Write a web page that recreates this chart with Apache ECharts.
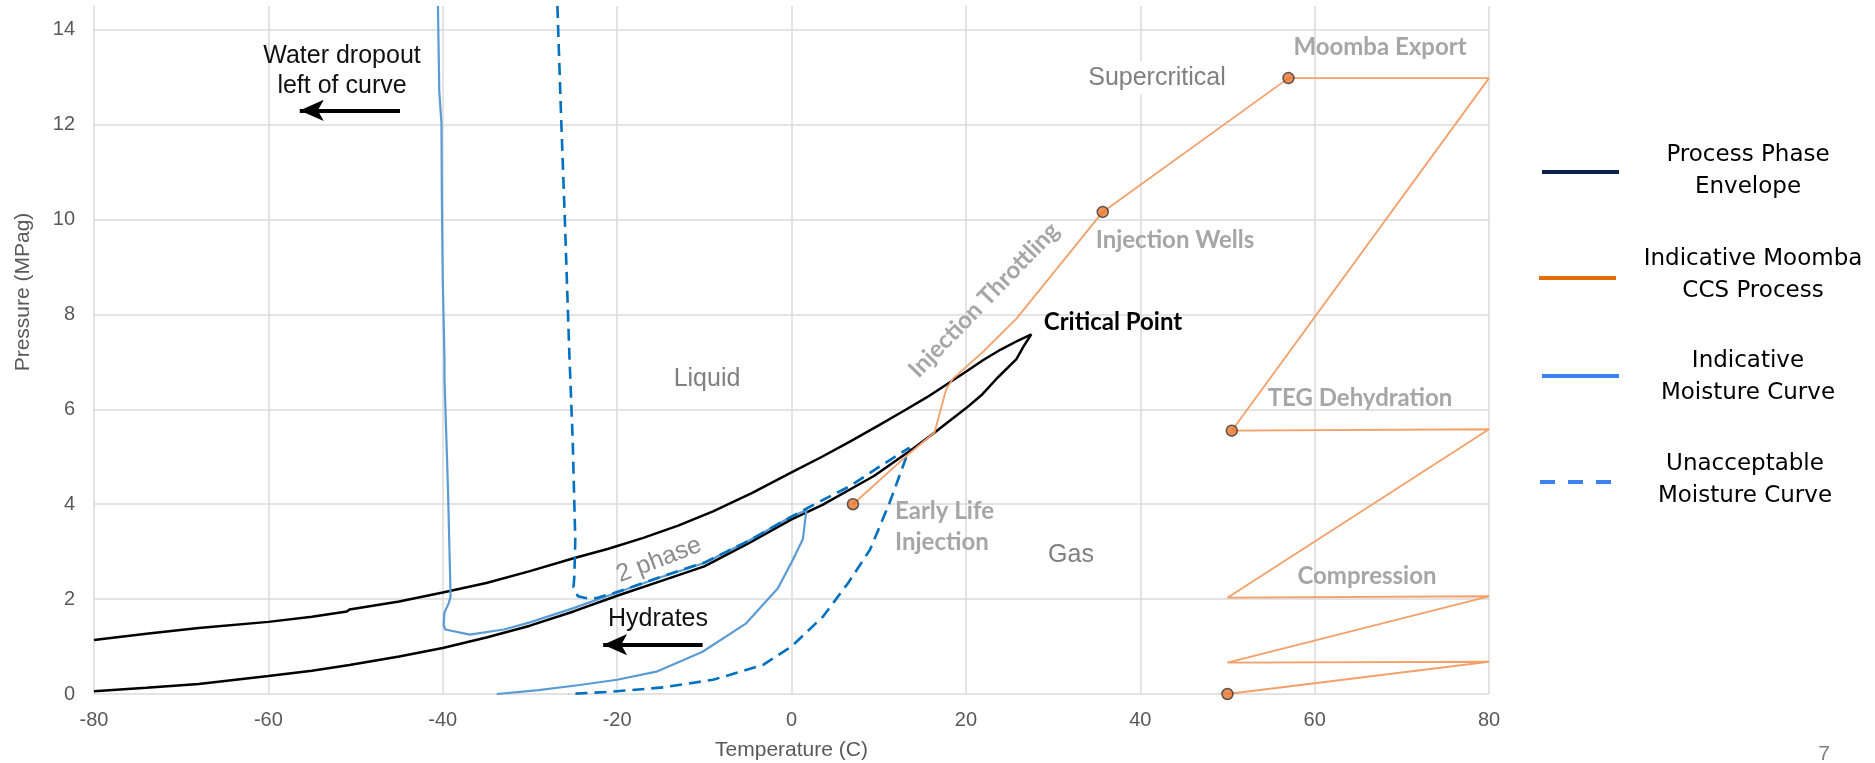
<!DOCTYPE html>
<html><head><meta charset="utf-8">
<script src="https://cdn.jsdelivr.net/npm/echarts@6/dist/echarts.min.js"></script>
<style>html,body{margin:0;padding:0;background:#fff}#c{width:1875px;height:763px}</style>
</head><body><div id="c"></div>
<script>
// ---- data ----
const xTicks = [-80, -60, -40, -20, 0, 20, 40, 60, 80];
const yTicks = [0, 2, 4, 6, 8, 10, 12, 14];
const yTop = 14.5;

// Process phase envelope: bubble branch up to the critical point, then dew branch back down
const phaseEnvelope = [
  [-80,1.14],[-74,1.27],[-68,1.39],[-60,1.52],[-55,1.63],[-51,1.74],[-50.7,1.78],[-45,1.95],[-40,2.14],
  [-35,2.34],[-30,2.59],[-25,2.86],[-21,3.06],[-17,3.29],[-13,3.55],[-9,3.85],[-4.5,4.24],[0,4.67],
  [3.5,5.0],[6.7,5.32],[10,5.66],[13,5.98],[15.5,6.25],[18,6.55],[20,6.79],[22,7.04],[24,7.26],[26,7.45],[27.5,7.58],
  [26.6,7.32],[25.8,7.06],[23.6,6.66],[21.8,6.3],[20,6.02],[18,5.74],[16.2,5.48],[14,5.18],[12,4.92],[9.5,4.6],
  [6.7,4.31],[3.5,3.98],[0,3.68],[-5,3.17],[-10,2.69],[-15,2.38],[-20,2.07],[-25,1.74],[-30,1.44],[-35,1.19],
  [-40,0.97],[-45,0.79],[-50.7,0.61],[-55,0.49],[-60,0.38],[-68,0.21],[-74,0.13],[-80,0.06]
];

// Indicative moisture curve
const moistureCurve = [
  [-40.55,14.5],[-40.4,12.7],[-40.15,12.03],[-40.1,10.44],[-40.0,8.75],[-39.8,7.06],[-39.8,6.64],[-39.4,4.31],
  [-39.1,2.06],[-39.3,1.92],[-39.8,1.72],[-39.9,1.45],[-39.7,1.36],[-36.9,1.25],[-33,1.36],[-30,1.51],[-25,1.81],
  [-20,2.14],[-15,2.46],[-10,2.76],[-5,3.22],[0,3.74],[1.7,3.87],[1.3,3.26],[0.16,2.83],[-1.56,2.23],[-5.2,1.49],
  [-10.2,0.89],[-15.5,0.47],[-20,0.3],[-24.3,0.19],[-29,0.08],[-33.8,0.0]
];

// Unacceptable moisture curve
const unacceptableMoisture = [
  [-26.85,14.5],[-26.4,12.03],[-26.0,10.02],[-25.5,7.27],[-25.1,5.37],[-24.8,3.26],[-24.9,2.5],[-25.0,2.25],
  [-24.5,2.06],[-23.5,2.02],[-22.4,2.02],[-20,2.15],[-15,2.47],[-10,2.77],[-5,3.22],[0,3.74],[3.5,4.08],
  [6.7,4.38],[10,4.78],[13.5,5.19],[13.0,4.91],[11.25,4.03],[9.0,3.04],[6.5,2.34],[3.6,1.63],[0,1.0],
  [-3.3,0.61],[-9,0.30],[-14.7,0.14],[-20.5,0.05],[-25.6,0.0]
];

// Indicative Moomba CCS process path
const ccsProcess = [
  [50,0],[80,0.68],[50,0.66],[80,2.06],[50,2.03],[80,5.58],[50.5,5.55],[80,12.98],[57,12.98],[35.7,10.16],
  [25.8,7.91],[21.9,7.2],[18.5,6.64],[17.75,6.43],[16.4,5.51],[13.2,5.02],[7.05,4.0]
];
const ccsMarkerIdx = [0, 6, 8, 9, 16];

const legendItems = ['Process Phase\nEnvelope', 'Indicative Moomba\nCCS Process', 'Indicative\nMoisture Curve', 'Unacceptable\nMoisture Curve'];

// ---- chart ----
const chart = echarts.init(document.getElementById('c'));
const AX = '"Liberation Sans", Arial, sans-serif';
const LATO = 'Lato, "Open Sans", sans-serif';

function txt(x, y, text, font, fill, extra, styleExtra) {
  return Object.assign({
    type: 'text', x: x, y: y, z: 100, silent: true,
    style: Object.assign({ text: text, font: font, fill: fill, align: 'center', verticalAlign: 'middle' }, styleExtra || {})
  }, extra || {});
}
function legLine(x1, x2, y, color, dash) {
  return { type: 'line', z: 100, silent: true, shape: { x1: x1, y1: y, x2: x2, y2: y },
    style: { stroke: color, lineWidth: 4, lineDash: dash || null } };
}

const LEG = '23px "DejaVu Sans", Verdana, sans-serif';
const graphics = [
  // y axis title
  txt(23, 292, 'Pressure (MPag)', '21px ' + AX, '#595959', { rotation: Math.PI / 2 }),
  // annotations
  txt(342, 71, 'Water dropout\nleft of curve', '25px ' + AX, '#111', {}, { lineHeight: 30 }),
  txt(658, 619, 'Hydrates', '25px ' + AX, '#111'),
  txt(707, 379, 'Liquid', '25px ' + AX, '#808080'),
  txt(1071, 555, 'Gas', '25px ' + AX, '#808080'),
  txt(1157, 78, 'Supercritical', '25px ' + AX, '#808080', {}, { backgroundColor: '#fff', padding: [4, 2] }),
  txt(659, 560, '2 phase', '25px ' + AX, '#8c8c8c', { rotation: 21 * Math.PI / 180 }),
  txt(984, 300, 'Injection Throttling', 'bold 24px ' + LATO, '#a6a6a6', { rotation: 46 * Math.PI / 180 }),
  txt(1113, 322, 'Critical Point', 'bold 24px ' + LATO, '#000'),
  txt(1175, 240, 'Injection Wells', 'bold 24px ' + LATO, '#a6a6a6'),
  txt(1380, 47, 'Moomba Export', 'bold 24px ' + LATO, '#a6a6a6'),
  txt(1360, 398, 'TEG Dehydration', 'bold 24px ' + LATO, '#a6a6a6'),
  txt(1367, 576, 'Compression', 'bold 24px ' + LATO, '#a6a6a6'),
  txt(895, 527, 'Early Life\nInjection', 'bold 24px ' + LATO, '#a6a6a6', {}, { align: 'left', lineHeight: 31 }),
  txt(1824, 754, '7', '21px ' + AX, '#808080'),
  // legend
  legLine(1542, 1619, 172, '#0b2150'),
  txt(1748, 171, legendItems[0], LEG, '#000', {}, { lineHeight: 32 }),
  legLine(1539, 1616, 278, '#e46c0a'),
  txt(1753, 275, legendItems[1], LEG, '#000', {}, { lineHeight: 32 }),
  legLine(1542, 1619, 376, '#3b82f0'),
  txt(1748, 377, legendItems[2], LEG, '#000', {}, { lineHeight: 32 }),
  legLine(1540, 1612, 482, '#3b82f0', [15, 13]),
  txt(1745, 480, legendItems[3], LEG, '#000', {}, { lineHeight: 32 })
];

const option = {
  animation: false,
  backgroundColor: '#fff',
  grid: { left: 94, right: 386, top: 6, bottom: 69, containLabel: false, outerBoundsMode: 'none' },
  xAxis: {
    type: 'value', min: xTicks[0], max: xTicks[xTicks.length - 1], interval: xTicks[1] - xTicks[0],
    name: 'Temperature (C)', nameLocation: 'middle', nameGap: 46,
    nameTextStyle: { color: '#595959', fontSize: 21, fontFamily: AX },
    axisLine: { show: false }, axisTick: { show: false },
    axisLabel: { color: '#595959', fontSize: 20, fontFamily: AX, margin: 16 },
    splitLine: { show: true, lineStyle: { color: '#dadada', width: 1.5 } }
  },
  yAxis: {
    type: 'value', min: yTicks[0], max: yTop, interval: yTicks[1] - yTicks[0],
    axisLine: { show: false }, axisTick: { show: false },
    axisLabel: { color: '#595959', fontSize: 20, fontFamily: AX, margin: 19, showMaxLabel: false,
      formatter: v => (yTicks.indexOf(v) >= 0 ? String(v) : '') },
    splitLine: { show: true, showMaxLine: false, lineStyle: { color: '#dadada', width: 1.5 } }
  },
  graphic: graphics,
  series: [
    {
      name: 'Process Phase Envelope', type: 'line', data: phaseEnvelope, symbol: 'none', z: 3,
      lineStyle: { color: '#000', width: 2.5 },
      markLine: {
        silent: true, symbol: ['none', 'arrow'], symbolSize: [16, 24], z: 10,
        lineStyle: { color: '#000', width: 4, type: 'solid' }, label: { show: false },
        emphasis: { disabled: true },
        data: [
          [{ coord: [-44.9, 12.3] }, { coord: [-56.4, 12.3] }],
          [{ coord: [-10.2, 1.04] }, { coord: [-21.6, 1.04] }]
        ]
      }
    },
    {
      name: 'Indicative Moisture Curve', type: 'line', data: moistureCurve, symbol: 'none', z: 4,
      lineStyle: { color: '#5b9bd5', width: 2.2 }
    },
    {
      name: 'Unacceptable Moisture Curve', type: 'line', data: unacceptableMoisture, symbol: 'none', z: 5,
      lineStyle: { color: '#0070c0', width: 2.6, type: [12, 7] }
    },
    {
      name: 'Indicative Moomba CCS Process', type: 'line', data: ccsProcess, symbol: 'none', z: 6,
      lineStyle: { color: '#f4a06a', width: 1.8 }
    },
    {
      name: 'CCS Process Points', type: 'scatter', z: 7,
      data: ccsMarkerIdx.map(i => ccsProcess[i]),
      symbol: 'circle', symbolSize: 11,
      itemStyle: { color: '#e8762d', borderColor: '#333', borderWidth: 1.5 }
    }
  ]
};
chart.setOption(option);
</script>
</body></html>
